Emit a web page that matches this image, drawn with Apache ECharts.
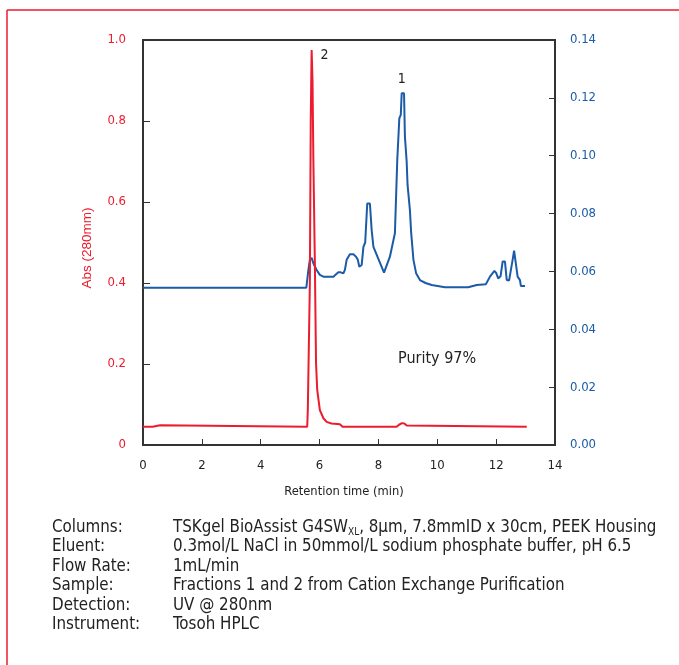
<!DOCTYPE html>
<html>
<head>
<meta charset="utf-8">
<script src="https://cdn.jsdelivr.net/npm/echarts@6/dist/echarts.min.js"></script>
<style>
html,body{margin:0;padding:0;background:#fff;}
#c{width:679px;height:665px;}
</style>
</head>
<body>
<div id="c"></div>
<script>
// Retention time ticks
const xTicks = [0, 2, 4, 6, 8, 10, 12, 14];
const leftTicks = [0, 0.2, 0.4, 0.6, 0.8, 1.0];
const rightTicks = [0, 0.02, 0.04, 0.06, 0.08, 0.10, 0.12, 0.14];

// Fraction 2 (red, left axis)
const redTime = [0, 0.33, 0.38, 0.58, 0.62, 5.58, 5.60, 5.65, 5.67, 5.70, 5.73, 5.76, 5.79, 5.84, 5.88, 5.92, 6.01, 6.13, 6.24, 6.40, 6.69, 6.75, 6.78, 8.62, 8.70, 8.80, 8.88, 8.96, 9.02, 13.04];
const redAbs  = [0.045, 0.045, 0.049, 0.049, 0.045, 0.045, 0.086, 0.090, 0.40, 0.80, 0.975, 0.90, 0.70, 0.449, 0.202, 0.136, 0.086, 0.066, 0.057, 0.053, 0.051, 0.050, 0.045, 0.045, 0.050, 0.054, 0.053, 0.048, 0.045, 0.045];

// Fraction 1 (blue, right axis)
const blueTime = [0, 5.55, 5.62, 5.67, 5.73, 5.79, 5.90, 6.01, 6.13, 6.47, 6.56, 6.64, 6.72, 6.81, 6.86, 6.92, 7.03, 7.15, 7.24, 7.30, 7.35, 7.43, 7.49, 7.55, 7.62, 7.71, 7.74, 7.77, 7.83, 8.19, 8.39, 8.56, 8.64, 8.71, 8.76, 8.79, 8.83, 8.87, 8.90, 8.96, 8.99, 9.07, 9.11, 9.19, 9.28, 9.41, 9.60, 9.81, 10.26, 11.05, 11.34, 11.65, 11.79, 11.94, 12.00, 12.07, 12.15, 12.22, 12.30, 12.36, 12.44, 12.56, 12.61, 12.67, 12.73, 12.81, 12.84, 12.98];
const blueAbs  = [0.0544, 0.0544, 0.0605, 0.0640, 0.0647, 0.0628, 0.0605, 0.0588, 0.0582, 0.0582, 0.0590, 0.0597, 0.0597, 0.0593, 0.0605, 0.0640, 0.0659, 0.0659, 0.0651, 0.0640, 0.0616, 0.0622, 0.0685, 0.0700, 0.0835, 0.0835, 0.0790, 0.0743, 0.0685, 0.0596, 0.0651, 0.0732, 0.0985, 0.1129, 0.1141, 0.1216, 0.1222, 0.1216, 0.1066, 0.0979, 0.0899, 0.0812, 0.0737, 0.0640, 0.0594, 0.0570, 0.0560, 0.0553, 0.0545, 0.0545, 0.0553, 0.0556, 0.0582, 0.0602, 0.0595, 0.0576, 0.0583, 0.0634, 0.0634, 0.0570, 0.0569, 0.0640, 0.0672, 0.0672, 0.0582, 0.0570, 0.0550, 0.0550];

// Conditions text
const condLabels = ['Columns:', 'Eluent:', 'Flow Rate:', 'Sample:', 'Detection:', 'Instrument:'];
const condValues = [
  '{n|TSKgel BioAssist G4SW}{s|XL}{n|, 8µm, 7.8mmID x 30cm, PEEK Housing}',
  '{n|0.3mol/L NaCl in 50mmol/L sodium phosphate buffer, pH 6.5}',
  '{n|1mL/min}',
  '{n|Fractions 1 and 2 from Cation Exchange Purification}',
  '{n|UV @ 280nm}',
  '{n|Tosoh HPLC}'
];

const RED = '#ec1c2e';
const BLUE = '#1b5ba7';
const AX = '#333333';
const NARROW = '"Liberation Sans Narrow", "DejaVu Sans Condensed", "Arial Narrow", sans-serif';

const chart = echarts.init(document.getElementById('c'), null, {renderer: 'canvas'});

const graphics = [
  {type: 'line', shape: {x1: 7, y1: 10, x2: 7, y2: 665}, style: {stroke: RED, lineWidth: 1.5}, silent: true},
  {type: 'line', shape: {x1: 7, y1: 10, x2: 679, y2: 10}, style: {stroke: RED, lineWidth: 1.5}, silent: true},
  {type: 'text', left: 398, top: 351, style: {text: 'Purity 97%', font: '16px ' + NARROW, fill: '#222'}, silent: true},
  {type: 'text', x: 87, y: 248, rotation: Math.PI / 2,
    style: {text: 'Abs (280mm)', font: '13.5px "Liberation Sans", Arial, sans-serif', fill: RED, align: 'center', verticalAlign: 'middle'}, silent: true}
];
const lineTop0 = 519, lineStep = 19.5;
condLabels.forEach((t, i) => {
  graphics.push({type: 'text', left: 52, top: lineTop0 + i * lineStep,
    style: {text: t, font: '16.8px ' + NARROW, fill: '#222'}, silent: true});
  graphics.push({type: 'text', left: 173, top: lineTop0 + i * lineStep,
    style: {text: condValues[i], rich: {
      n: {fontSize: 16.8, fontFamily: NARROW, fill: '#222', color: '#222'},
      s: {fontSize: 10, fontFamily: NARROW, fill: '#222', color: '#222', padding: [9, 0, 0, 0]}
    }}, silent: true});
});

chart.setOption({
  animation: false,
  backgroundColor: '#ffffff',
  grid: {left: 143, right: 124, top: 40, bottom: 220, show: true, borderColor: AX, borderWidth: 2, containLabel: false},
  xAxis: {
    type: 'value', min: xTicks[0], max: xTicks[xTicks.length - 1], interval: 2,
    name: 'Retention time (min)', nameLocation: 'middle', nameGap: 40,
    nameTextStyle: {fontSize: 12.8, fontFamily: NARROW, color: '#222', padding: [0, 10, 0, 0]},
    axisLine: {lineStyle: {color: AX, width: 2}},
    axisTick: {inside: true, length: 6, lineStyle: {color: AX}},
    axisLabel: {fontSize: 13, fontFamily: NARROW, color: '#222', margin: 14},
    splitLine: {show: false}
  },
  yAxis: [
    {
      type: 'value', position: 'left', min: leftTicks[0], max: leftTicks[leftTicks.length - 1], interval: 0.2,
      axisLine: {show: true, lineStyle: {color: AX, width: 2}},
      axisTick: {show: true, inside: true, length: 7, lineStyle: {color: AX}},
      axisLabel: {fontSize: 13, fontFamily: NARROW, color: RED, margin: 17,
        formatter: v => v === 0 ? '0' : v.toFixed(1)},
      splitLine: {show: false}
    },
    {
      type: 'value', position: 'right', min: rightTicks[0], max: rightTicks[rightTicks.length - 1], interval: 0.02,
      axisLine: {show: true, lineStyle: {color: AX, width: 2}},
      axisTick: {show: true, inside: true, length: 6, lineStyle: {color: AX}},
      axisLabel: {fontSize: 13, fontFamily: NARROW, color: BLUE, margin: 15,
        formatter: v => v.toFixed(2)},
      splitLine: {show: false}
    }
  ],
  series: [
    {
      type: 'line', yAxisIndex: 1, showSymbol: false, symbol: 'none',
      lineStyle: {color: BLUE, width: 2}, itemStyle: {color: BLUE},
      data: blueTime.map((t, i) => [t, blueAbs[i]]),
      markPoint: {
        symbol: 'circle', symbolSize: 0, silent: true,
        label: {show: true, formatter: '1', color: '#222', fontSize: 14, fontFamily: NARROW, offset: [-1, -12]},
        data: [{coord: [8.83, 0.1222]}]
      },
      z: 2
    },
    {
      type: 'line', yAxisIndex: 0, showSymbol: false, symbol: 'none',
      lineStyle: {color: RED, width: 2}, itemStyle: {color: RED},
      data: redTime.map((t, i) => [t, redAbs[i]]),
      markPoint: {
        symbol: 'circle', symbolSize: 0, silent: true,
        label: {show: true, formatter: '2', color: '#222', fontSize: 14, fontFamily: NARROW, offset: [13, 5]},
        data: [{coord: [5.73, 0.975]}]
      },
      z: 3
    }
  ],
  graphic: graphics
});
</script>
</body>
</html>
